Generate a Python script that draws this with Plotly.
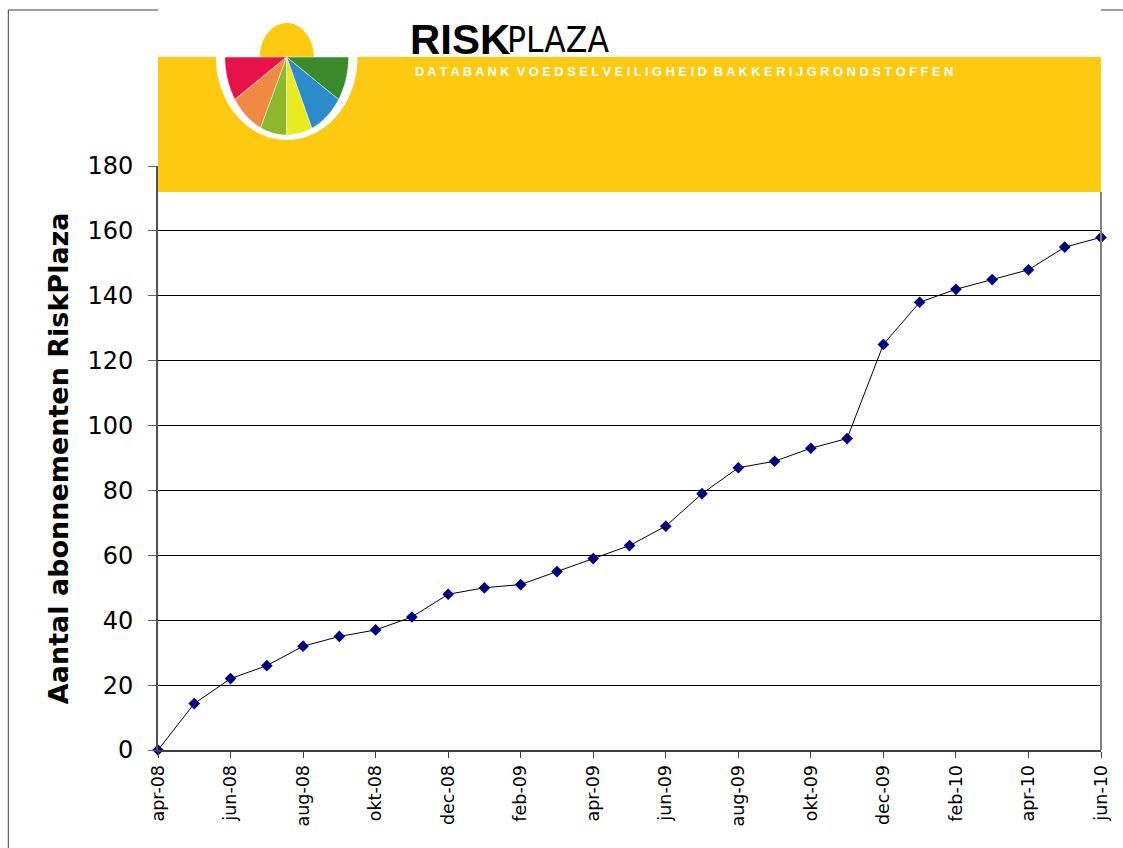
import numpy as np
import plotly.graph_objects as go

months = ["apr-08", "mei-08", "jun-08", "jul-08", "aug-08", "sep-08", "okt-08", "nov-08", "dec-08",
          "jan-09", "feb-09", "mrt-09", "apr-09", "mei-09", "jun-09", "jul-09", "aug-09", "sep-09",
          "okt-09", "nov-09", "dec-09", "jan-10", "feb-10", "mrt-10", "apr-10", "mei-10", "jun-10"]
subscriptions = [0, 14.3, 22, 26, 32, 35, 37, 41, 48,
                 50, 51, 55, 59, 63, 69, 79, 87, 89,
                 93, 96, 125, 138, 142, 145, 148, 155, 158]
tick_labels = months[::2]
y_title = "Aantal abonnementen RiskPlaza"
brand_bold = "RISK"
brand_light = "PLAZA"
brand_sub = "DATABANK VOEDSELVEILIGHEID BAKKERIJGRONDSTOFFEN"

W, H = 1123, 848
L, R, T, B = 158, 1103, 166, 750


def px(x):
    return (x - L) / (R - L)


def py(y):
    return (B - y) / (B - T)


def poly(points):
    return "M " + " L ".join(f"{px(x):.5f},{py(y):.5f}" for x, y in points) + " Z"


fig = go.Figure()
fig.add_trace(go.Scatter(
    x=months, y=subscriptions, mode="lines+markers",
    line=dict(color="black", width=1),
    marker=dict(symbol="diamond", size=9, color="#000080"),
    showlegend=False, cliponaxis=False,
))

YEL = "#FDC911"
shapes = []
# outer frame fragments
shapes.append(dict(type="line", xref="paper", yref="paper", x0=px(8), x1=px(8), y0=py(10), y1=py(860),
                   line=dict(color="#404040", width=1)))
shapes.append(dict(type="line", xref="paper", yref="paper", x0=px(8), x1=px(158), y0=py(10), y1=py(10),
                   line=dict(color="#404040", width=1)))
shapes.append(dict(type="line", xref="paper", yref="paper", x0=px(1103), x1=px(1125), y0=py(10), y1=py(10),
                   line=dict(color="#404040", width=1)))
# right border of plot
shapes.append(dict(type="line", xref="paper", yref="paper", x0=1, x1=1, y0=0, y1=py(192),
                   line=dict(color="#808080", width=2)))
# sun
cx, cy = 287, 57
sun = [(cx + 27 * np.cos(t), cy - 34 * np.sin(t)) for t in np.linspace(0, np.pi, 40)]
shapes.append(dict(type="path", xref="paper", yref="paper", path=poly(sun),
                   fillcolor=YEL, line=dict(width=0), layer="above"))
# banner
shapes.append(dict(type="rect", xref="paper", yref="paper", x0=px(158), x1=px(1103), y0=py(192), y1=py(57),
                   fillcolor=YEL, line=dict(width=0), layer="above"))
# white rim of pie
rim = [(cx + 71 * np.cos(t), cy + 83 * np.sin(t)) for t in np.linspace(0, np.pi, 60)]
shapes.append(dict(type="path", xref="paper", yref="paper", path=poly(rim),
                   fillcolor="white", line=dict(width=0), layer="above"))
# wedges (angles measured from the left horizontal, going down)
wedge_colors = ["#E8124B", "#F08A42", "#8DB92A", "#E8EA22", "#2C8BCB", "#3B8A2B"]
bounds = [0, 33, 65, 90, 114, 147, 180]
for i, col in enumerate(wedge_colors):
    a0, a1 = np.radians(180 - bounds[i]), np.radians(180 - bounds[i + 1])
    pts = [(cx, cy)] + [(cx + 62 * np.cos(t), cy + 78 * np.sin(t)) for t in np.linspace(a0, a1, 20)]
    shapes.append(dict(type="path", xref="paper", yref="paper", path=poly(pts),
                       fillcolor=col, line=dict(color="white", width=0.5), layer="above"))

annotations = [
    dict(text=f"<b>{y_title}</b>", xref="paper", yref="paper", x=px(58), y=py(458), textangle=-90,
         showarrow=False, font=dict(family="DejaVu Sans", size=27, color="black"),
         xanchor="center", yanchor="middle"),
    dict(text=f"<b>{brand_bold}</b>", xref="paper", yref="paper", x=px(409), y=py(40),
         showarrow=False, font=dict(family="Liberation Sans", size=42, color="black"),
         xanchor="left", yanchor="middle"),
    dict(text=brand_light, xref="paper", yref="paper", x=px(506), y=py(40),
         showarrow=False, font=dict(family="DejaVu Sans Condensed, Liberation Sans", size=35, color="black"),
         xanchor="left", yanchor="middle"),
    dict(text="<b>" + "\u00a0\u00a0".join(" ".join(w) for w in brand_sub.split()) + "</b>",
         xref="paper", yref="paper", x=px(414), y=py(72),
         showarrow=False, font=dict(family="Liberation Sans", size=12.8, color="white"),
         xanchor="left", yanchor="middle"),
]

fig.update_layout(
    width=W, height=H,
    margin=dict(l=L, r=W - R, t=T, b=H - B, pad=0),
    paper_bgcolor="white", plot_bgcolor="white",
    shapes=shapes, annotations=annotations,
    xaxis=dict(type="category", range=[0, len(months) - 1], tickmode="array",
               tickvals=tick_labels, ticktext=tick_labels, tickangle=-90,
               tickfont=dict(family="DejaVu Sans", size=17.5, color="black"),
               ticks="outside", ticklen=6, tickcolor="#404040",
               showgrid=False, showline=True, linecolor="#404040", linewidth=2, zeroline=False),
    yaxis=dict(range=[0, 180], tickmode="array", tickvals=list(range(0, 181, 20)),
               tickfont=dict(family="DejaVu Sans", size=24, color="black"),
               ticks="outside", ticklen=8, tickcolor="#606060", ticklabelstandoff=10,
               showgrid=True, gridcolor="black", gridwidth=1,
               showline=True, linecolor="#505050", linewidth=2, zeroline=False),
)

fig.write_html(
    "out.html",
    config={"displayModeBar": False},
    post_script="document.body.style.margin='0';document.body.style.overflow='hidden';",
)
